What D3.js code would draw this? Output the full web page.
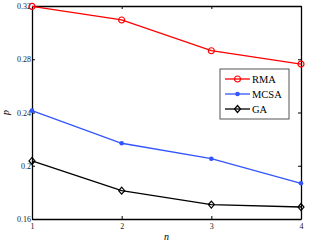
<!DOCTYPE html>
<html>
<head>
<meta charset="utf-8">
<script src="https://cdn.jsdelivr.net/npm/d3@7"></script>
<style>
  body { margin: 0; background: #fff; }
  svg { display: block; font-family: "Liberation Serif", "DejaVu Serif", serif; }
</style>
</head>
<body>
<svg id="chart" width="310" height="248"></svg>
<script>
// chart data
var nValues = [1, 2, 3, 4];
var yTicks = [0.16, 0.2, 0.24, 0.28, 0.32];
var rmaValues = [0.3197, 0.3095, 0.2864, 0.2764];
var mcsaValues = [0.2414, 0.2169, 0.2053, 0.1868];
var gaValues = [0.2036, 0.1813, 0.1708, 0.1690];
var seriesNames = ['RMA', 'MCSA', 'GA'];

var svg = d3.select('#chart');
var plotLeft = 32, plotRight = 301, plotTop = 6, plotBottom = 219;

var xScale = d3.scaleLinear().domain([1, 4]).range([plotLeft, plotRight]);
var yScale = d3.scaleLinear().domain([0.16, 0.32]).range([plotBottom, plotTop]);

var series = [
    {name: seriesNames[0], values: rmaValues, color: '#ff0000', marker: 'circle'},
    {name: seriesNames[1], values: mcsaValues, color: '#3355ff', marker: 'dot'},
    {name: seriesNames[2], values: gaValues, color: '#000000', marker: 'diamond'}
];

// axes: ticks inside on all four sides
var fmt = function(d) { return d3.format('.2f')(d).replace(/0$/, ''); };
svg.append('g')
    .attr('transform', 'translate(0,' + plotBottom + ')')
    .call(d3.axisBottom(xScale).tickValues(nValues).tickSizeInner(-3).tickSizeOuter(0).tickPadding(4).tickFormat(d3.format('d')));
svg.append('g')
    .attr('transform', 'translate(0,' + plotTop + ')')
    .call(d3.axisTop(xScale).tickValues(nValues).tickSizeInner(-3).tickSizeOuter(0).tickFormat(''));
svg.append('g')
    .attr('transform', 'translate(' + plotLeft + ',0)')
    .call(d3.axisLeft(yScale).tickValues(yTicks).tickSizeInner(-3).tickSizeOuter(0).tickPadding(1).tickFormat(fmt));
svg.append('g')
    .attr('transform', 'translate(' + plotRight + ',0)')
    .call(d3.axisRight(yScale).tickValues(yTicks).tickSizeInner(-3).tickSizeOuter(0).tickFormat(''));

svg.selectAll('.domain').attr('stroke', '#000').attr('stroke-width', 1.3);
svg.selectAll('.tick line').attr('stroke', '#000');
svg.selectAll('.tick text')
    .attr('fill', '#222')
    .style('font-family', '"Liberation Serif", serif')
    .style('font-size', '8px');

// axis labels
svg.append('text')
    .attr('x', (plotLeft + plotRight) / 2).attr('y', 240)
    .attr('text-anchor', 'middle')
    .style('font-style', 'italic').style('font-size', '10px')
    .text('n');
svg.append('text')
    .attr('transform', 'translate(9,' + (plotTop + plotBottom) / 2 + ') rotate(-90)')
    .attr('text-anchor', 'middle')
    .style('font-style', 'italic').style('font-size', '10px')
    .text('p');

function drawMarker(g, type, color) {
    if (type === 'circle') {
        g.append('circle').attr('r', 3).attr('fill', 'none').attr('stroke', color).attr('stroke-width', 1.2);
    } else if (type === 'dot') {
        g.append('circle').attr('r', 2.3).attr('fill', color);
    } else {
        g.append('path').attr('d', 'M0,-3.5L3,0L0,3.5L-3,0Z')
            .attr('fill', 'none').attr('stroke', color).attr('stroke-width', 1.2);
    }
}

var line = d3.line()
    .x(function(d, i) { return xScale(nValues[i]); })
    .y(function(d) { return yScale(d); });

series.forEach(function(s) {
    svg.append('path')
        .attr('d', line(s.values))
        .attr('fill', 'none')
        .attr('stroke', s.color)
        .attr('stroke-width', 1.3);
    s.values.forEach(function(v, i) {
        var g = svg.append('g').attr('transform', 'translate(' + xScale(nValues[i]) + ',' + yScale(v) + ')');
        drawMarker(g, s.marker, s.color);
    });
});

// legend
var legend = svg.append('g').attr('transform', 'translate(220,69)');
legend.append('rect').attr('width', 69).attr('height', 50)
    .attr('fill', '#fff').attr('stroke', '#555').attr('stroke-width', 1);
series.forEach(function(s, i) {
    var y = 10 + i * 15;
    legend.append('line').attr('x1', 5).attr('x2', 30).attr('y1', y).attr('y2', y)
        .attr('stroke', s.color).attr('stroke-width', 1.3);
    drawMarker(legend.append('g').attr('transform', 'translate(17.5,' + y + ')'), s.marker, s.color);
    legend.append('text').attr('x', 32).attr('y', y + 3.8)
        .style('font-size', '10.5px').text(s.name);
});
</script>
</body>
</html>
